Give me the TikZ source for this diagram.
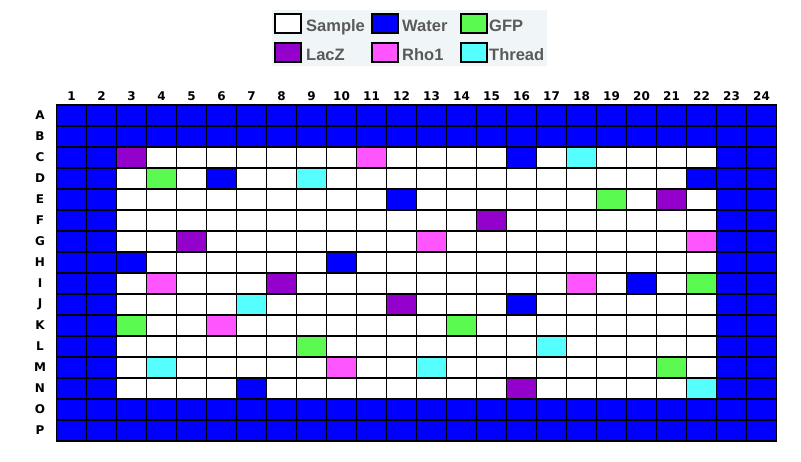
\documentclass[tikz,border=0pt]{standalone}
\usepackage{fontspec}
\newfontfamily\legfont{Liberation Sans}
\newfontfamily\labfont{DejaVu Sans}
\definecolor{water}{RGB}{0,0,255}
\definecolor{gfp}{RGB}{90,250,80}
\definecolor{lacz}{RGB}{148,0,204}
\definecolor{rho}{RGB}{255,85,255}
\definecolor{thread}{RGB}{85,255,255}
\definecolor{legbg}{RGB}{240,245,248}
\definecolor{legtext}{RGB}{90,90,90}
\tikzset{
  gridline/.style={line width=1.5pt, black},
  swatch/.style={draw=black, line width=2pt, minimum width=26pt, minimum height=19pt, inner sep=0pt},
  legtxt/.style={anchor=base west, inner sep=0pt, text=legtext, font=\legfont\bfseries\fontsize{16.5}{18}\selectfont},
  lab/.style={inner sep=0pt, text=black, font=\labfont\bfseries\fontsize{12}{14}\selectfont}
}
\begin{document}
\begin{tikzpicture}[x=1pt,y=-1pt]
\useasboundingbox (0,0) rectangle (801,462);
% legend
\fill[legbg] (272,10) rectangle (547,66);
\node[swatch, fill=white]  (swS) at (288,24) {};
\node[swatch, fill=water]  (swW) at (384.7,24) {};
\node[swatch, fill=gfp]    (swG) at (473.7,24) {};
\node[swatch, fill=lacz]   (swL) at (288,53) {};
\node[swatch, fill=rho]    (swR) at (384.7,53) {};
\node[swatch, fill=thread] (swT) at (473.7,53) {};
\node[legtxt] (tS) at (306,31.7) {Sample};
\node[legtxt] (tW) at (402,31.7) {Water};
\node[legtxt] (tG) at (489,31.7) {GFP};
\node[legtxt] (tL) at (306,60.3) {LacZ};
\node[legtxt] (tR) at (402,60.3) {Rho1};
\node[legtxt] (tT) at (489,60.3) {Thread};
% plate
\fill[water] (56.5,105) rectangle (776.5,441);
\fill[white] (116.5,147) rectangle (716.5,399);
\foreach \r/\c/\col in {3/3/lacz, 3/11/rho, 3/16/water, 3/18/thread,
  4/4/gfp, 4/6/water, 4/9/thread, 4/22/water,
  5/12/water, 5/19/gfp, 5/21/lacz,
  6/15/lacz,
  7/5/lacz, 7/13/rho, 7/22/rho,
  8/3/water, 8/10/water,
  9/4/rho, 9/8/lacz, 9/18/rho, 9/20/water, 9/22/gfp,
  10/7/thread, 10/12/lacz, 10/16/water,
  11/3/gfp, 11/6/rho, 11/14/gfp,
  12/9/gfp, 12/17/thread,
  13/4/thread, 13/10/rho, 13/13/thread, 13/21/gfp,
  14/7/water, 14/16/lacz, 14/22/thread}
  \fill[\col] ({56.5+30*(\c-1)},{105+21*(\r-1)}) rectangle ++(30,21);
\foreach \i in {1,...,23}
  \draw[gridline] ({56.5+30*\i},105) -- ({56.5+30*\i},441);
\foreach \j in {1,...,15}
  \draw[gridline] (56.5,{105+21*\j}) -- (776.5,{105+21*\j});
\draw[gridline] (56.5,105) rectangle (776.5,441);
% labels
\foreach \c in {1,...,24}
  \node[lab] (col\c) at ({56.5+30*(\c-0.5)},96) {\c};
\foreach \l [count=\r] in {A,B,C,D,E,F,G,H,I,J,K,L,M,N,O,P}
  \node[lab] (row\l) at (40,{105+21*(\r-0.5)}) {\l};
\end{tikzpicture}
\end{document}
